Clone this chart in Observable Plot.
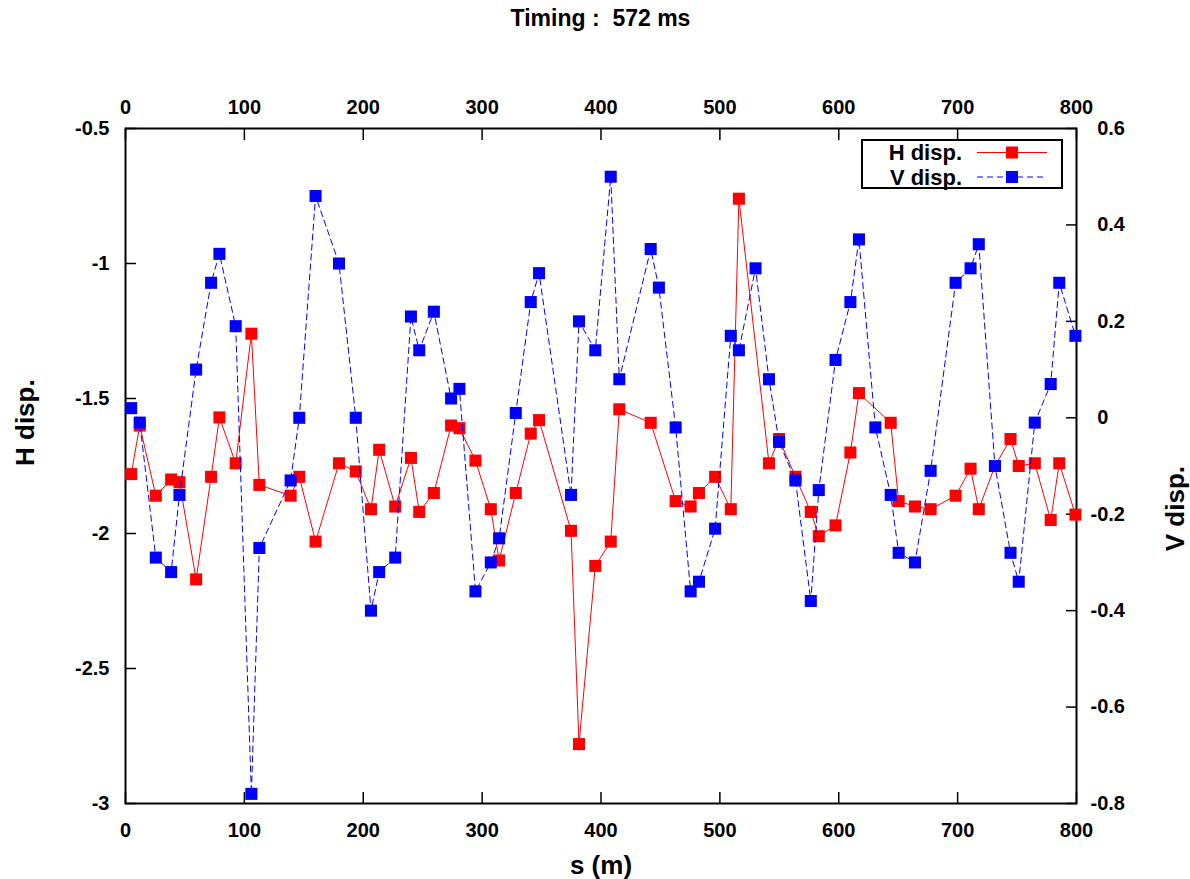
<!DOCTYPE html>
<html><head><meta charset="utf-8">
<script src="https://cdn.jsdelivr.net/npm/d3@7"></script>
<script src="https://cdn.jsdelivr.net/npm/@observablehq/plot@0.6"></script>
<style>
body{margin:0;background:#fff;font-family:"Liberation Sans",Arial,sans-serif;}
#wrap{position:relative;width:1190px;height:879px;overflow:hidden;}
#title{position:absolute;left:0;top:0;width:1201px;height:36px;line-height:36px;text-align:center;font-weight:bold;font-size:23px;white-space:pre;}
#chart{position:absolute;left:0;top:40px;}
#legend{position:absolute;left:860px;top:138px;}
</style></head><body>
<div id="wrap"><div id="title"></div><div id="chart"></div><div id="legend"></div></div>
<script>
// ---- data ----
const sH = [4.8,12.0,25.5,38.4,45.4,59.4,72.0,79.0,92.7,105.9,112.6,138.9,146.2,159.9,179.6,193.7,206.5,213.4,226.9,240.1,247.1,259.4,273.9,280.9,294.4,307.3,314.3,328.3,340.9,347.9,374.8,381.5,395.2,408.2,415.4,441.8,462.8,475.4,482.4,496.0,509.2,516.0,541.3,549.8,563.6,576.5,583.2,597.3,609.8,617.0,643.7,650.4,664.1,677.3,698.3,710.9,717.8,731.4,744.5,751.4,764.9,778.3,785.5,799.1];
const hDisp = [-1.78,-1.60,-1.86,-1.80,-1.81,-2.17,-1.79,-1.57,-1.74,-1.26,-1.82,-1.86,-1.79,-2.03,-1.74,-1.77,-1.91,-1.69,-1.90,-1.72,-1.92,-1.85,-1.60,-1.61,-1.73,-1.91,-2.10,-1.85,-1.63,-1.58,-1.99,-2.78,-2.12,-2.03,-1.54,-1.59,-1.88,-1.90,-1.85,-1.79,-1.91,-0.76,-1.74,-1.65,-1.79,-1.92,-2.01,-1.97,-1.70,-1.48,-1.59,-1.88,-1.90,-1.91,-1.86,-1.76,-1.91,-1.75,-1.65,-1.75,-1.74,-1.95,-1.74,-1.93];
const sV = [4.8,12.0,25.5,38.4,45.4,59.4,72.0,79.0,92.7,105.9,112.6,138.9,146.2,159.9,179.6,193.7,206.5,213.4,226.9,240.1,247.1,259.4,273.9,280.9,294.4,307.3,314.3,328.3,340.9,347.9,374.8,381.5,395.2,408.2,415.4,441.8,448.7,462.8,475.4,482.4,496.0,509.2,516.0,530.0,541.3,549.8,563.6,576.5,583.2,597.3,609.8,617.0,630.8,643.7,650.4,664.1,677.3,698.3,710.9,717.8,731.4,744.5,751.4,764.9,778.3,785.5,799.1];
const vDisp = [0.02,-0.01,-0.29,-0.32,-0.16,0.10,0.28,0.34,0.19,-0.78,-0.27,-0.13,0.00,0.46,0.32,0.00,-0.40,-0.32,-0.29,0.21,0.14,0.22,0.04,0.06,-0.36,-0.30,-0.25,0.01,0.24,0.30,-0.16,0.20,0.14,0.50,0.08,0.35,0.27,-0.02,-0.36,-0.34,-0.23,0.17,0.14,0.31,0.08,-0.05,-0.13,-0.38,-0.15,0.12,0.24,0.37,-0.02,-0.16,-0.28,-0.30,-0.11,0.28,0.31,0.36,-0.10,-0.28,-0.34,-0.01,0.07,0.28,0.17];
const sTicks = [0,100,200,300,400,500,600,700,800];
const hTicks = [-0.5,-1,-1.5,-2,-2.5,-3];
const vTicks = [0.6,0.4,0.2,0,-0.2,-0.4,-0.6,-0.8];
const seriesNames = ["H disp.","V disp."];
const titleText = "Timing :  572 ms";
const xLabel = "s (m)", yLabel = "H disp.", y2Label = "V disp.";

const hDomain = [-3,-0.5], vDomain = [-0.8,0.6];
const v2h = d3.scaleLinear(vDomain, hDomain);
const hData = sH.map((s,i)=>({s, h:hDisp[i]}));
const vData = sV.map((s,i)=>({s, v:vDisp[i]}));

const FONT = "Liberation Sans, Arial, sans-serif";
const RED = "#ff0000", BLUE = "#0000ff";
const R = 6.8;

document.getElementById("title").textContent = titleText;

const chart = Plot.plot({
  width:1190, height:839,
  marginTop:88, marginBottom:76, marginLeft:125, marginRight:114,
  style:{fontFamily:FONT, background:"white", color:"black", fontWeight:"bold"},
  x:{domain:[0,800]},
  y:{domain:hDomain},
  marks:[
    Plot.frame({stroke:"black", strokeWidth:2}),
    Plot.axisX({anchor:"bottom", ticks:sTicks, tickSize:-11, fill:"none", strokeWidth:1.5, label:null}),
    Plot.axisX({anchor:"top", ticks:sTicks, tickSize:-11, fill:"none", strokeWidth:1.5, label:null}),
    Plot.axisY({anchor:"left", ticks:hTicks, tickSize:-11, fill:"none", strokeWidth:1.5, label:null}),
    Plot.axisY({anchor:"right", ticks:vTicks.map(v2h), tickSize:-11, fill:"none", strokeWidth:1.5, label:null}),
    Plot.axisX({anchor:"bottom", ticks:sTicks, tickSize:0, tickPadding:19, stroke:"none", fontSize:20, fontWeight:"bold", tickFormat:d=>String(d), label:null}),
    Plot.axisX({anchor:"top", ticks:sTicks, tickSize:0, tickPadding:15, stroke:"none", fontSize:20, fontWeight:"bold", tickFormat:d=>String(d), label:null}),
    Plot.axisY({anchor:"left", ticks:hTicks, tickSize:0, tickPadding:16, stroke:"none", fontSize:20, fontWeight:"bold", tickFormat:d=>String(d), label:null}),
    Plot.axisY({anchor:"right", ticks:vTicks.map(v2h), tickSize:0, tickPadding:14, stroke:"none", fontSize:20, fontWeight:"bold",
      tickFormat:d=>{const v=Math.round(v2h.invert(d)*10)/10; return (v>=0?"\u2004":"")+String(v===0?0:v);}, label:null}),
    Plot.text([xLabel], {frameAnchor:"bottom", dy:70, lineAnchor:"bottom", fontSize:26, fontWeight:"bold"}),
    Plot.text([yLabel], {frameAnchor:"left", dx:-92, rotate:-90, lineAnchor:"bottom", fontSize:26, fontWeight:"bold"}),
    Plot.text([y2Label], {frameAnchor:"right", dx:107, rotate:-90, lineAnchor:"bottom", fontSize:26, fontWeight:"bold"}),
    Plot.line(hData, {x:"s", y:"h", stroke:RED, strokeWidth:1}),
    Plot.dot(hData, {x:"s", y:"h", symbol:"square", r:R, fill:RED}),
    Plot.line(vData, {x:"s", y:d=>v2h(d.v), stroke:BLUE, strokeWidth:1, strokeDasharray:"6,4"}),
    Plot.dot(vData, {x:"s", y:d=>v2h(d.v), symbol:"square", r:R, fill:BLUE})
  ]
});
document.getElementById("chart").appendChild(chart);

// legend
const side = R*Math.sqrt(Math.PI);
const lg = d3.select("#legend").append("svg").attr("width",204).attr("height",52)
  .style("font-family",FONT).style("font-weight","bold");
lg.append("rect").attr("x",2).attr("y",2).attr("width",200).attr("height",48)
  .attr("fill","white").attr("stroke","black").attr("stroke-width",2);
const rows = [{name:seriesNames[0], color:RED, dash:null, y:14.5},{name:seriesNames[1], color:BLUE, dash:"6,4", y:39}];
rows.forEach(r=>{
  lg.append("text").attr("x",102).attr("y",r.y).attr("dy","0.35em").attr("text-anchor","end")
    .attr("font-size",22).text(r.name);
  lg.append("line").attr("x1",117).attr("x2",187).attr("y1",r.y).attr("y2",r.y)
    .attr("stroke",r.color).attr("stroke-width",1).attr("stroke-dasharray",r.dash);
  lg.append("rect").attr("x",152-side/2).attr("y",r.y-side/2).attr("width",side).attr("height",side).attr("fill",r.color);
});
</script>
</body></html>
